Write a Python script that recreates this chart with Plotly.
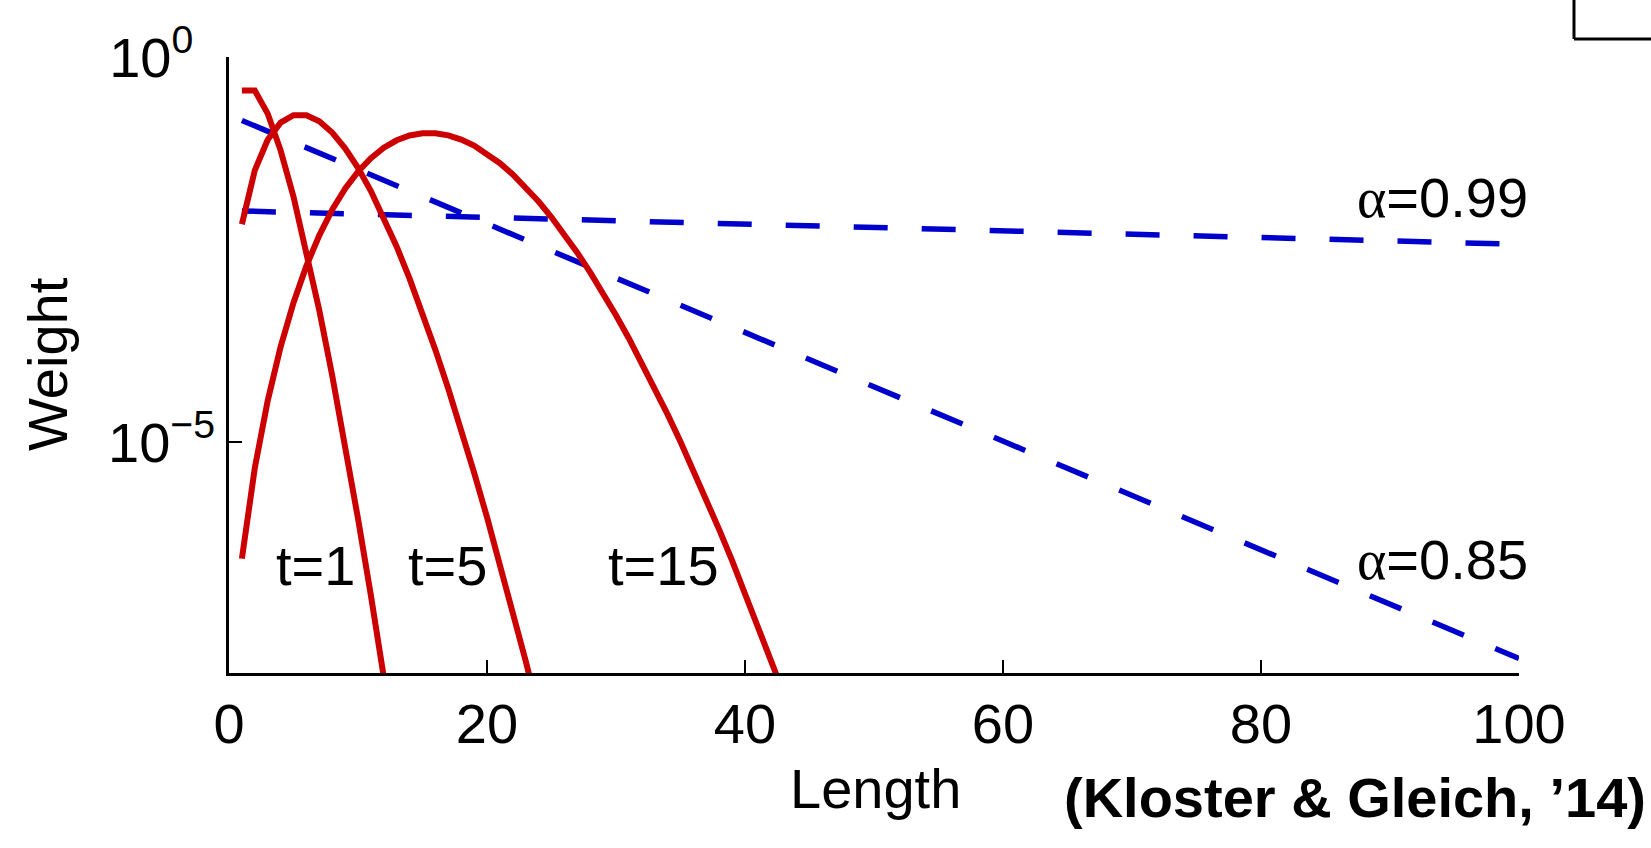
import plotly.graph_objects as go

# ---------------- data ----------------
# PageRank-style weights (dashed blue), sampled along Length
alpha_len = [1, 5, 10, 15, 20, 25, 30, 35, 40, 45, 50, 55, 60, 65, 70, 75, 80, 85, 90, 95, 100]
alpha_085 = [0.15, 0.0783, 0.03474, 0.01542, 0.00684, 0.003035, 0.001347, 5.975e-4, 2.651e-4,
             1.176e-4, 5.219e-5, 2.316e-5, 1.027e-5, 4.559e-6, 2.023e-6, 8.975e-7, 3.982e-7,
             1.767e-7, 7.84e-8, 3.479e-8, 1.543e-8]
alpha_099 = [0.0100, 0.009606, 0.009135, 0.008688, 0.008262, 0.007857, 0.007472, 0.007106,
             0.006757, 0.006426, 0.006111, 0.005812, 0.005527, 0.005256, 0.004998, 0.004753,
             0.004520, 0.004299, 0.004088, 0.003888, 0.003697]

# Heat-kernel weights (solid red)
t1_len = list(range(1, 14))
t1_w = [0.3679, 0.3679, 0.1839, 0.06131, 0.01533, 0.003066, 5.109e-4, 7.299e-5, 9.124e-6,
        1.014e-6, 1.014e-7, 9.216e-9, 7.680e-10]
t5_len = list(range(1, 26))
t5_w = [6.738e-3, 0.03369, 0.08422, 0.1404, 0.1755, 0.1755, 0.1462, 0.1044, 0.06528, 0.03627,
        0.01813, 8.242e-3, 3.434e-3, 1.321e-3, 4.717e-4, 1.572e-4, 4.914e-5, 1.445e-5, 4.015e-6,
        1.056e-6, 2.641e-7, 6.289e-8, 1.429e-8, 3.107e-9, 6.47e-10]
t15_len = list(range(1, 45))
t15_w = [3.059e-7, 4.589e-6, 3.441e-5, 1.721e-4, 6.453e-4, 1.936e-3, 4.839e-3, 0.01037, 0.01944,
         0.03241, 0.04861, 0.06629, 0.08286, 0.09561, 0.1024, 0.1024, 0.09603, 0.08474, 0.07061,
         0.05575, 0.04181, 0.02986, 0.02036, 0.01328, 8.300e-3, 4.980e-3, 2.873e-3, 1.596e-3,
         8.551e-4, 4.423e-4, 2.211e-4, 1.070e-4, 5.016e-5, 2.280e-5, 1.006e-5, 4.311e-6,
         1.796e-6, 7.281e-7, 2.874e-7, 1.105e-7, 4.146e-8, 1.517e-8, 5.417e-9, 1.890e-9]

x_ticks = [0, 20, 40, 60, 80, 100]
y_ticks = [1, 1e-5]
# non-breaking spaces keep the "10" parts of both labels right-aligned
y_ticktext = ["10<sup>0\u00a0\u00a0</sup>", "10<sup>\u22125</sup>"]

# ---------------- styling ----------------
FONT = "Liberation Sans, Arial, Helvetica, sans-serif"
BLUE = "#0000cc"
RED = "#cc0000"
W, H = 1651, 848
L, R, T, B = 229, 1519, 57, 673  # plot area in pixels


def px(xp):
    return (xp - L) / (R - L)


def py(yp):
    return (B - yp) / (B - T)


fig = go.Figure()
for xs, ys in [(alpha_len, alpha_099), (alpha_len, alpha_085)]:
    fig.add_trace(go.Scatter(x=xs, y=ys, mode="lines",
                             line=dict(color=BLUE, width=5.5, dash="34px,34px"),
                             showlegend=False, hoverinfo="skip"))
for xs, ys in [(t1_len, t1_w), (t5_len, t5_w), (t15_len, t15_w)]:
    fig.add_trace(go.Scatter(x=xs, y=ys, mode="lines",
                             line=dict(color=RED, width=6),
                             showlegend=False, hoverinfo="skip"))

fig.update_layout(
    width=W, height=H,
    margin=dict(l=L, r=W - R, t=T, b=H - B, autoexpand=False),
    paper_bgcolor="white", plot_bgcolor="white",
    font=dict(family=FONT, size=56, color="black"),
    showlegend=False,
)
fig.update_xaxes(
    range=[0, 100], tickvals=x_ticks, ticktext=[str(v) for v in x_ticks],
    showline=True, linecolor="black", linewidth=2.5, mirror=False,
    ticks="inside", ticklen=13, tickwidth=2, tickcolor="black",
    showgrid=False, zeroline=False, tickfont=dict(size=56, family=FONT),
    ticklabelstandoff=0,
)
fig.update_yaxes(
    type="log", range=[-8, 0], tickvals=y_ticks, ticktext=y_ticktext,
    showline=True, linecolor="black", linewidth=2.5, mirror=False,
    ticks="inside", ticklen=13, tickwidth=2, tickcolor="black",
    showgrid=False, zeroline=False, tickfont=dict(size=56, family=FONT),
    ticklabelstandoff=0,
)

ALPHA = '<span style="font-family:Liberation Serif, Times New Roman, serif">\u03b1</span>'
labels = [
    (ALPHA + "=0.99", 1442, 197.5),
    (ALPHA + "=0.85", 1442, 559.5),
    ("t=1", 315, 565),
    ("t=5", 447, 565),
    ("t=15", 663, 565),
    ("Length", 875, 788),
]
for txt, xp, yp in labels:
    fig.add_annotation(text=txt, x=px(xp), y=py(yp), xref="paper", yref="paper",
                       xanchor="center", yanchor="middle", showarrow=False,
                       font=dict(size=56, family=FONT, color="black"))
fig.add_annotation(text="Weight", x=px(47), y=py(364), xref="paper", yref="paper",
                   xanchor="center", yanchor="middle", textangle=-90, showarrow=False,
                   font=dict(size=56, family=FONT, color="black"))
fig.add_annotation(text="<b>(Kloster & Gleich, \u201914)</b>", x=px(1355), y=py(797),
                   xref="paper", yref="paper", xanchor="center", yanchor="middle",
                   showarrow=False, font=dict(size=56, family=FONT, color="black"))

# partial frame at the top-right corner
fig.add_shape(type="line", xref="paper", yref="paper",
              x0=px(1574), x1=px(1574), y0=py(-5), y1=py(39),
              line=dict(color="black", width=3))
fig.add_shape(type="line", xref="paper", yref="paper",
              x0=px(1574), x1=px(1660), y0=py(39), y1=py(39),
              line=dict(color="black", width=3))

fig.write_html("out.html")
